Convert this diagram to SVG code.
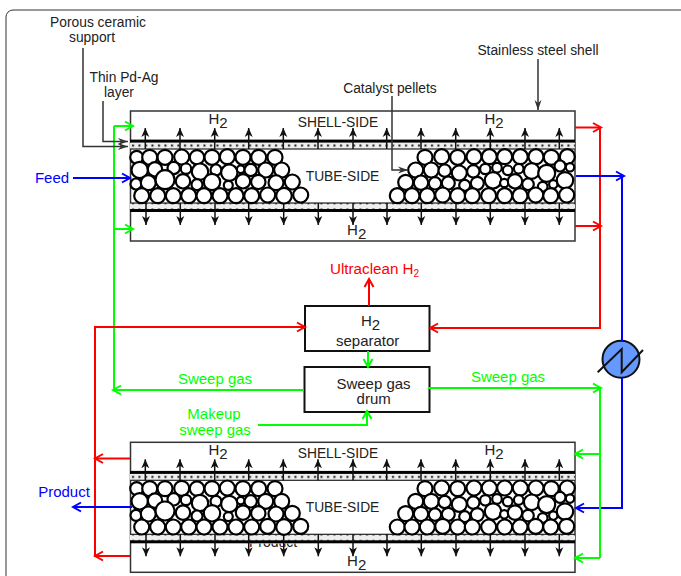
<svg xmlns="http://www.w3.org/2000/svg" xmlns:xlink="http://www.w3.org/1999/xlink" width="681" height="576" viewBox="0 0 681 576">
<style>
text{font-family:"Liberation Sans",Arial,sans-serif;fill:#222}
.lab{font-size:13.8px;text-anchor:middle}
.h2{font-size:15px;text-anchor:middle}
.r{fill:#f00}.g{fill:#0f0}.b{fill:#00f}
.big{font-size:15px;text-anchor:middle}
.flow{fill:none;stroke-width:2}
.red{stroke:#f00}.green{stroke:#0f0}.blue{stroke:#00f}
.red-a{marker-end:url(#ar)}.green-a{marker-end:url(#ag)}.blue-a{marker-end:url(#ab)}
.note{fill:none;stroke:#333;stroke-width:1.5;marker-end:url(#ak)}
.box{fill:#fff;stroke:#111;stroke-width:2}
.shell{fill:#fff;stroke:#333;stroke-width:1.5}
.band{fill:#000}
.pel{fill:#fff;stroke:#000;stroke-width:2.2}
.perm{fill:none;stroke:#111;stroke-width:1.5;marker-end:url(#ak2)}
</style>
<defs>
<marker id="ar" markerUnits="userSpaceOnUse" markerWidth="12" markerHeight="12" refX="9.5" refY="6" orient="auto"><path d="M1.5 1.5L9.5 6L1.5 10.5" fill="none" stroke="#f00" stroke-width="2"/></marker>
<marker id="ag" markerUnits="userSpaceOnUse" markerWidth="12" markerHeight="12" refX="9.5" refY="6" orient="auto"><path d="M1.5 1.5L9.5 6L1.5 10.5" fill="none" stroke="#0f0" stroke-width="2"/></marker>
<marker id="ab" markerUnits="userSpaceOnUse" markerWidth="12" markerHeight="12" refX="9.5" refY="6" orient="auto"><path d="M1.5 1.5L9.5 6L1.5 10.5" fill="none" stroke="#00f" stroke-width="2"/></marker>
<marker id="ak" markerUnits="userSpaceOnUse" markerWidth="12" markerHeight="10" refX="10" refY="5" orient="auto"><path d="M0 1.5L10 5L0 8.5L3 5Z" fill="#333"/></marker>
<marker id="ak2" markerUnits="userSpaceOnUse" markerWidth="10" markerHeight="10" refX="9" refY="5" orient="auto"><path d="M0 1L9 5L0 9L2.5 5Z" fill="#111"/></marker>
<pattern id="por" patternUnits="userSpaceOnUse" x="130" y="142.6" width="6.5" height="6.4"><rect width="6.5" height="6.4" fill="#eee"/><rect x="2" y="2" width="2" height="2" fill="#111"/></pattern>
<clipPath id="below-wall"><rect x="240" y="543.5" width="70" height="6"/></clipPath>
<g id="pellets">
<circle class="pel" cx="136.7" cy="157.3" r="6.5"/><circle class="pel" cx="149.7" cy="157.3" r="7.5"/><circle class="pel" cx="165" cy="157.3" r="7.5"/><circle class="pel" cx="181.7" cy="157" r="7.5"/><circle class="pel" cx="197" cy="157.3" r="7.2"/><circle class="pel" cx="212" cy="157.3" r="7.5"/><circle class="pel" cx="227.3" cy="156.7" r="7.5"/><circle class="pel" cx="243" cy="157.3" r="7.5"/><circle class="pel" cx="258.7" cy="157.3" r="7.5"/><circle class="pel" cx="275" cy="157.3" r="7.5"/>
<circle class="pel" cx="139.7" cy="170" r="8.2"/><circle class="pel" cx="155" cy="169.3" r="7.2"/><circle class="pel" cx="173.7" cy="168" r="6.2"/><circle class="pel" cx="186" cy="168.7" r="5.2"/><circle class="pel" cx="200" cy="171.7" r="8.2"/><circle class="pel" cx="216" cy="170" r="5.5"/><circle class="pel" cx="229.3" cy="172.7" r="8.2"/><circle class="pel" cx="240.7" cy="169.3" r="3.8"/><circle class="pel" cx="250.7" cy="170" r="6.2"/><circle class="pel" cx="265.7" cy="170" r="7.5"/><circle class="pel" cx="281.7" cy="170" r="7.5"/>
<circle class="pel" cx="136" cy="184" r="5.5"/><circle class="pel" cx="148.3" cy="182.7" r="7.5"/><circle class="pel" cx="165" cy="179.7" r="9.5"/><circle class="pel" cx="183" cy="181.3" r="7.2"/><circle class="pel" cx="197" cy="184.7" r="5.5"/><circle class="pel" cx="212" cy="182" r="8.2"/><circle class="pel" cx="228.3" cy="185.3" r="4.5"/><circle class="pel" cx="243" cy="181.3" r="7.2"/><circle class="pel" cx="258.3" cy="182" r="7.2"/><circle class="pel" cx="276" cy="182.7" r="7.5"/><circle class="pel" cx="292.3" cy="182" r="7.5"/>
<circle class="pel" cx="141.7" cy="195.7" r="7.5"/><circle class="pel" cx="157.7" cy="195.7" r="7.5"/><circle class="pel" cx="173.3" cy="195.7" r="7.5"/><circle class="pel" cx="188.7" cy="195.7" r="7.5"/><circle class="pel" cx="204" cy="195.7" r="7.5"/><circle class="pel" cx="220" cy="195.7" r="7.5"/><circle class="pel" cx="236" cy="195.7" r="7.5"/><circle class="pel" cx="251.7" cy="195.7" r="7.5"/><circle class="pel" cx="267.7" cy="195" r="7.5"/><circle class="pel" cx="284" cy="195.7" r="7.8"/><circle class="pel" cx="300.7" cy="195" r="7.5"/>
<circle class="pel" cx="425" cy="157.3" r="7.5"/><circle class="pel" cx="441.7" cy="156.7" r="7.5"/><circle class="pel" cx="457.7" cy="157.3" r="7.5"/><circle class="pel" cx="474" cy="156.7" r="7.5"/><circle class="pel" cx="489.3" cy="156.7" r="7.5"/><circle class="pel" cx="504.7" cy="156.7" r="7.5"/><circle class="pel" cx="520.3" cy="156.7" r="7.5"/><circle class="pel" cx="536" cy="156.7" r="7.5"/><circle class="pel" cx="551.3" cy="157.3" r="7.5"/><circle class="pel" cx="567.3" cy="156.7" r="7.5"/>
<circle class="pel" cx="415.7" cy="170" r="7.5"/><circle class="pel" cx="431.3" cy="170" r="7.5"/><circle class="pel" cx="444.7" cy="170.7" r="6.2"/><circle class="pel" cx="459.3" cy="173" r="7.5"/><circle class="pel" cx="473.3" cy="171.3" r="6.2"/><circle class="pel" cx="485.3" cy="169" r="5.2"/><circle class="pel" cx="497" cy="167.7" r="4.8"/><circle class="pel" cx="507.7" cy="170.3" r="4.8"/><circle class="pel" cx="518.7" cy="168.7" r="4.8"/><circle class="pel" cx="531.7" cy="171" r="7.8"/><circle class="pel" cx="546.7" cy="173.3" r="8.5"/><circle class="pel" cx="560" cy="166" r="5.5"/><circle class="pel" cx="570" cy="167.3" r="4.2"/>
<circle class="pel" cx="405.7" cy="182.3" r="7.5"/><circle class="pel" cx="421" cy="182.7" r="7.2"/><circle class="pel" cx="435" cy="183.3" r="6.2"/><circle class="pel" cx="448.3" cy="183" r="6.5"/><circle class="pel" cx="464.7" cy="185.3" r="5.5"/><circle class="pel" cx="477.3" cy="183.3" r="6.5"/><circle class="pel" cx="493" cy="180.3" r="8.2"/><circle class="pel" cx="504.3" cy="183" r="4.2"/><circle class="pel" cx="515" cy="181.3" r="7.2"/><circle class="pel" cx="528" cy="184.3" r="5.8"/><circle class="pel" cx="542.7" cy="186.7" r="4.8"/><circle class="pel" cx="553.3" cy="184.3" r="4.2"/><circle class="pel" cx="565" cy="180.3" r="8.2"/>
<circle class="pel" cx="397.3" cy="195.7" r="7.5"/><circle class="pel" cx="412" cy="195.7" r="7.5"/><circle class="pel" cx="427.3" cy="195.7" r="7.5"/><circle class="pel" cx="442.7" cy="195" r="7.5"/><circle class="pel" cx="457.7" cy="195.7" r="7.5"/><circle class="pel" cx="472.3" cy="195.7" r="7.5"/><circle class="pel" cx="488.7" cy="195.7" r="7.5"/><circle class="pel" cx="504.7" cy="195.7" r="7.5"/><circle class="pel" cx="520" cy="195.7" r="7.5"/><circle class="pel" cx="535.7" cy="195" r="7.5"/><circle class="pel" cx="550.7" cy="195.7" r="7.5"/><circle class="pel" cx="566.7" cy="195" r="7.5"/>
</g>
<g id="reactor">
<rect class="shell" x="130.5" y="111" width="444.5" height="130"/>
<rect x="130" y="142.6" width="445" height="6.4" fill="url(#por)"/>
<rect x="130" y="203" width="445" height="6.4" fill="url(#por)"/>
<rect x="130" y="148.4" width="445" height="1.2" fill="#222"/>
<rect x="130" y="202.4" width="445" height="1.2" fill="#222"/>
<rect class="band" x="130" y="139.6" width="445" height="3"/>
<rect class="band" x="130" y="209" width="445" height="3"/>
<path class="perm" d="M145.3 149V128"/><path class="perm" d="M180 149V128"/><path class="perm" d="M214.7 149V128"/><path class="perm" d="M248.7 149V128"/><path class="perm" d="M283.3 149V128"/><path class="perm" d="M318 149V128"/><path class="perm" d="M353 149V128"/><path class="perm" d="M386.7 149V128"/><path class="perm" d="M421 149V128"/><path class="perm" d="M455.7 149V128"/><path class="perm" d="M490.3 149V128"/><path class="perm" d="M525 149V128"/><path class="perm" d="M559.3 149V128"/>
<path class="perm" d="M146 203V225"/><path class="perm" d="M180.3 203V225"/><path class="perm" d="M215 203V225"/><path class="perm" d="M248.7 203V225"/><path class="perm" d="M283.7 203V225"/><path class="perm" d="M318.3 203V225"/><path class="perm" d="M353 203V225"/><path class="perm" d="M387 203V225"/><path class="perm" d="M421.3 203V225"/><path class="perm" d="M456 203V225"/><path class="perm" d="M490.3 203V225"/><path class="perm" d="M525 203V225"/><path class="perm" d="M559.3 203V225"/>
<use xlink:href="#pellets" href="#pellets"/>
<text class="lab" x="338" y="127">SHELL-SIDE</text>
<text class="lab" x="342.5" y="181">TUBE-SIDE</text>
<text class="h2" x="218" y="124">H<tspan dy="4">2</tspan></text>
<text class="h2" x="494" y="124">H<tspan dy="4">2</tspan></text>
<text class="h2" x="356.7" y="235">H<tspan dy="4">2</tspan></text>
</g>
</defs>
<rect id="frame" x="6" y="10" width="690" height="600" rx="7" fill="#fff" stroke="#333" stroke-width="1"/>
<g id="reactor-top"><use xlink:href="#reactor" href="#reactor"/></g>
<g id="reactor-bottom">
<use xlink:href="#reactor" href="#reactor" y="331.3"/>
<text x="249" y="547" clip-path="url(#below-wall)" style="font-size:14px">Product</text>
</g>
<g id="separator"><rect class="box" x="305" y="306" width="124.5" height="45"/>
<text class="h2" x="370.5" y="326">H<tspan dy="4">2</tspan></text>
<text class="big" x="367.7" y="345.7">separator</text></g>
<g id="drum"><rect class="box" x="304.5" y="367" width="125" height="45"/>
<text class="big" x="373.5" y="388.7">Sweep gas</text>
<text class="big" x="373.7" y="404.3">drum</text></g>
<g id="heat-exchanger"><circle cx="621" cy="359.3" r="18.5" fill="#6699ff" stroke="#111" stroke-width="2"/>
<path d="M597.7 372.3L621.7 349V372.3L643 350" fill="none" stroke="#111" stroke-width="2"/></g>
<g id="connectors">
<path class="flow green green-a" d="M114 126H133"/>
<path class="flow green green-a" d="M114 229H133"/>
<path class="flow green green-a" d="M304 390H113"/>
<path class="flow green" d="M114 126V390"/>
<path class="flow blue blue-a" d="M73 178H130"/>
<path class="flow red red-a" d="M575 127.5H601"/>
<path class="flow red red-a" d="M575 226H601"/>
<path class="flow red red-a" d="M600 127V328H430"/>
<path class="flow blue blue-a" d="M576 176H624"/>
<path class="flow blue" d="M622 176V341"/>
<path class="flow blue blue-a" d="M622 378V508H576"/>
<path class="flow green green-a" d="M428 388H601"/>
<path class="flow green" d="M600 388V558"/>
<path class="flow green green-a" d="M600 454H575"/>
<path class="flow green green-a" d="M600 558H575"/>
<path class="flow red red-a" d="M95 557V327H305"/>
<path class="flow red red-a" d="M130 458.5H95"/>
<path class="flow red red-a" d="M130 556H95"/>
<path class="flow blue blue-a" d="M132 507H73"/>
<path class="flow red red-a" d="M369 306V279"/>
<path class="flow green green-a" d="M368 351V367"/>
<path class="flow green green-a" d="M258 425H367V411"/>
<path class="note" d="M83 48V146.5H128"/>
<path class="note" d="M103 101V141.5H128"/>
<path class="note" d="M538 59V110"/>
<path class="note" d="M392 96V170H408"/>
</g>
<g id="labels">
<text class="lab" x="98" y="27">Porous ceramic</text>
<text class="lab" x="92" y="42">support</text>
<text class="lab" x="124" y="82">Thin Pd-Ag</text>
<text class="lab" x="119" y="97">layer</text>
<text class="lab" x="390" y="93">Catalyst pellets</text>
<text class="lab" x="538" y="55">Stainless steel shell</text>
<text class="big b" x="52" y="183">Feed</text>
<text class="big b" x="64" y="497">Product</text>
<text class="big r" x="330" y="274" style="text-anchor:start;font-size:15.2px">Ultraclean H<tspan dy="3" style="font-size:10px">2</tspan></text>
<text class="big g" x="215" y="383.5">Sweep gas</text>
<text class="big g" x="508" y="381.5">Sweep gas</text>
<text class="big g" x="214" y="419.3">Makeup</text>
<text class="big g" x="215" y="434.5">sweep gas</text>
</g>
</svg>
